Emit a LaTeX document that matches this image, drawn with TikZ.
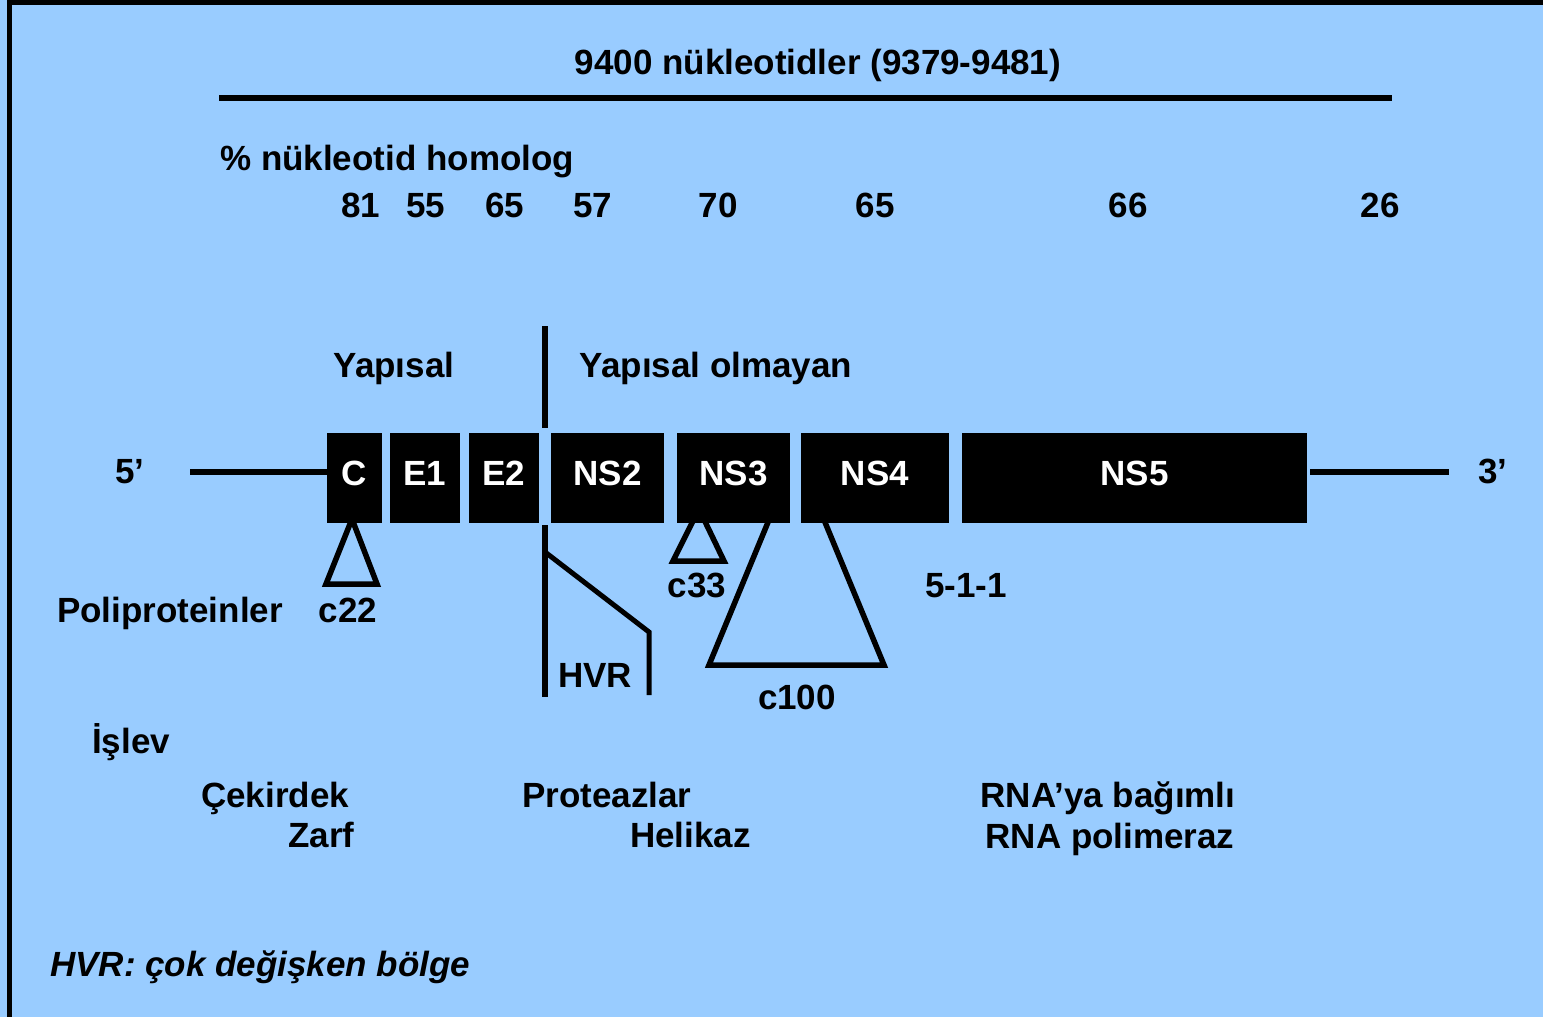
\documentclass[tikz,border=0pt]{standalone}
\usepackage{fontspec}
\setmainfont{Liberation Sans}
\definecolor{slide}{RGB}{153,204,255}
\begin{document}
\begin{tikzpicture}[x=1pt,y=-1pt,
  txt/.style={inner sep=0pt, font=\fontsize{35}{42}\selectfont\bfseries},
  gene/.style={fill=black, draw=none, inner sep=0pt, minimum height=90,
    text=white, text height=25, text depth=10,
    font=\fontsize{35}{42}\selectfont\bfseries},
  rule/.style={line width=5.5},
  epitope/.style={line width=5.5, line join=miter}]
% background and frame
\fill[slide] (0,0) rectangle (1543,1017);
\useasboundingbox (0,0) rectangle (1543,1017);
\draw[line width=4.5] (9.5,2.25) rectangle (1600,1100);

% genome length
\node[txt, anchor=base] (len) at (818,74) {9400 nükleotidler (9379-9481)};
\coordinate (lenl) at (219,98);
\coordinate (lenr) at (1392,98);
\draw[rule] (lenl) -- (lenr);

% homology
\node[txt, anchor=base west] (hom) at (220,170) {\% nükleotid homolog};
\foreach \n/\x/\v in {h1/361/81, h2/426/55, h3/505/65, h4/593/57,
                      h5/718/70, h6/875/65, h7/1128/66, h8/1380/26}
  \node[txt, anchor=base] (\n) at (\x,217) {\v};

% structural / non-structural
\node[txt, anchor=base] (yap) at (394,377) {Yapısal};
\node[txt, anchor=base] (nonyap) at (716,377) {Yapısal olmayan};
\coordinate (divt) at (545,326);
\coordinate (divb) at (545,428);
\draw[line width=6] (divt) -- (divb);

% epitope triangles (apexes tucked under the boxes)
\draw[epitope] (352,519) -- (377,584) -- (326,584) -- cycle;
\draw[epitope] (699,509) -- (724,561) -- (673,561) -- cycle;
\draw[epitope] (771,515) -- (709,665) -- (884,665) -- (822,515);

% gene boxes
\node[gene, minimum width=55]  (C)   at (354.5,478) {C};
\node[gene, minimum width=70]  (E1)  at (425,478)   {E1};
\node[gene, minimum width=70]  (E2)  at (504,478)   {E2};
\node[gene, minimum width=113] (NS2) at (607.5,478) {NS2};
\node[gene, minimum width=113] (NS3) at (733.5,478) {NS3};
\node[gene, minimum width=148] (NS4) at (875,478)   {NS4};
\node[gene, minimum width=345] (NS5) at (1134.5,478) {NS5};

% untranslated ends
\node[txt, anchor=base] (p5) at (130,483) {5’};
\node[txt, anchor=base] (p3) at (1493,483) {3’};
\coordinate (u5) at (190,472);
\coordinate (u3) at (1449,472);
\draw[rule] (u5) -- (u5 -| C.west);
\draw[rule] ([xshift=3]u3 -| NS5.east) -- (u3);

% hypervariable region
\coordinate (hv1) at (545,525);
\coordinate (hv2) at (545,697);
\coordinate (hv3) at (545,552);
\coordinate (hv4) at (649,632);
\coordinate (hv5) at (649,695);
\draw[line width=6] (hv1) -- (hv2);
\draw[line width=5, line join=miter] (hv3) -- (hv4) -- (hv5);
\node[txt, anchor=base] (hvr) at (595,687) {HVR};

% epitope labels
\node[txt, anchor=base] (c22) at (348,622) {c22};
\node[txt, anchor=base] (c33) at (697,597) {c33};
\node[txt, anchor=base] (c100) at (797,709) {c100};
\node[txt, anchor=base] (e511) at (966,597) {5-1-1};
\node[txt, anchor=base west] (poly) at (57,622) {Poliproteinler};

% functions
\node[txt, anchor=base west] (isl) at (92,753) {İşlev};
\node[txt, anchor=base west] (cek) at (201,807) {Çekirdek};
\node[txt, anchor=base west] (zarf) at (288,847) {Zarf};
\node[txt, anchor=base west] (prot) at (522,807) {Proteazlar};
\node[txt, anchor=base west] (hel) at (630,847) {Helikaz};
\node[txt, anchor=base] (rna1) at (1108,807) {RNA’ya bağımlı};
\node[txt, anchor=base] (rna2) at (1110,848) {RNA polimeraz};

% footnote
\node[txt, anchor=base west, font=\fontsize{35}{42}\selectfont\bfseries\itshape]
  (note) at (50,976) {HVR: çok değişken bölge};
\end{tikzpicture}
\end{document}
